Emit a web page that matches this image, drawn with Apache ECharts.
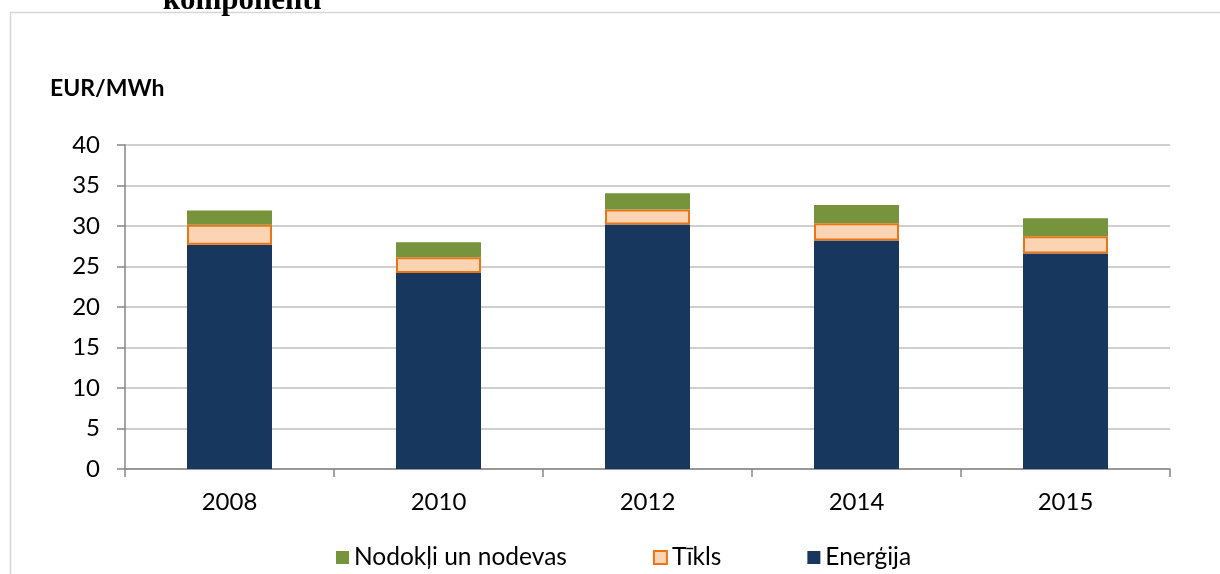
<!DOCTYPE html>
<html>
<head>
<meta charset="utf-8">
<script src="https://cdn.jsdelivr.net/npm/echarts@6/dist/echarts.min.js"></script>
<style>
  html, body { margin: 0; padding: 0; background: #fff; }
  #main { width: 1220px; height: 574px; }
</style>
</head>
<body>
<div id="main"></div>
<script>
// data
var years = ['2008', '2010', '2012', '2014', '2015'];
var energija = [27.7, 24.2, 30.2, 28.2, 26.6];
var tikls = [2.45, 1.95, 1.85, 2.15, 2.15];
var nodokli = [1.75, 1.85, 2.0, 2.25, 2.2];
var yTicks = [0, 5, 10, 15, 20, 25, 30, 35, 40];

var font = 'Lato, "Open Sans", sans-serif';
var myChart = echarts.init(document.getElementById('main'));

var option = {
    animation: false,
    backgroundColor: '#fff',
    textStyle: { fontFamily: font },
    graphic: [
        {
            type: 'rect',
            shape: { x: 10.5, y: 12.5, width: 1300, height: 700 },
            style: { fill: 'none', stroke: '#d6d6d6', lineWidth: 1.5 },
            silent: true
        },
        {
            type: 'text',
            x: 242, y: 1,
            style: {
                text: 'komponenti',
                font: 'bold 31px "Liberation Serif", serif',
                fill: '#000',
                align: 'center',
                verticalAlign: 'middle'
            }
        },
        {
            type: 'text',
            x: 50, y: 89,
            style: {
                text: 'EUR/MWh',
                font: 'bold 23px ' + font,
                fill: '#000',
                align: 'left',
                verticalAlign: 'middle'
            }
        }
    ],
    legend: {
        data: ['Nodokļi un nodevas', 'Tīkls', 'Enerģija'],
        left: 331,
        top: 540,
        icon: 'rect',
        itemWidth: 13,
        itemHeight: 13,
        itemGap: 86,
        textStyle: { fontSize: 24.5, color: '#000', fontFamily: font }
    },
    grid: { left: 125, right: 50, top: 145, bottom: 105, containLabel: false },
    xAxis: {
        type: 'category',
        data: years,
        boundaryGap: true,
        axisLine: { lineStyle: { color: '#868686', width: 1.5 } },
        axisTick: { show: true, length: 8, alignWithLabel: false, lineStyle: { color: '#868686', width: 1.5 } },
        axisLabel: { fontSize: 24, color: '#000', margin: 21, fontFamily: font },
        splitLine: { show: false }
    },
    yAxis: {
        type: 'value',
        min: yTicks[0],
        max: yTicks[yTicks.length - 1],
        interval: 5,
        axisLine: { show: true, lineStyle: { color: '#868686', width: 1.5 } },
        axisTick: { show: true, length: 8, lineStyle: { color: '#868686', width: 1.5 } },
        axisLabel: { fontSize: 24, color: '#000', margin: 25, fontFamily: font },
        splitLine: { lineStyle: { color: '#bfbfbf', width: 1.5 } }
    },
    series: [
        {
            name: 'Enerģija',
            type: 'bar',
            stack: 'total',
            barWidth: 85,
            data: energija,
            itemStyle: { color: '#17375E' }
        },
        {
            name: 'Tīkls',
            type: 'bar',
            stack: 'total',
            barWidth: 85,
            data: tikls,
            itemStyle: { color: '#FBD4B4', borderColor: '#EC7415', borderWidth: 2 }
        },
        {
            name: 'Nodokļi un nodevas',
            type: 'bar',
            stack: 'total',
            barWidth: 85,
            data: nodokli,
            itemStyle: { color: '#77933C' }
        }
    ]
};

myChart.setOption(option);
</script>
</body>
</html>
